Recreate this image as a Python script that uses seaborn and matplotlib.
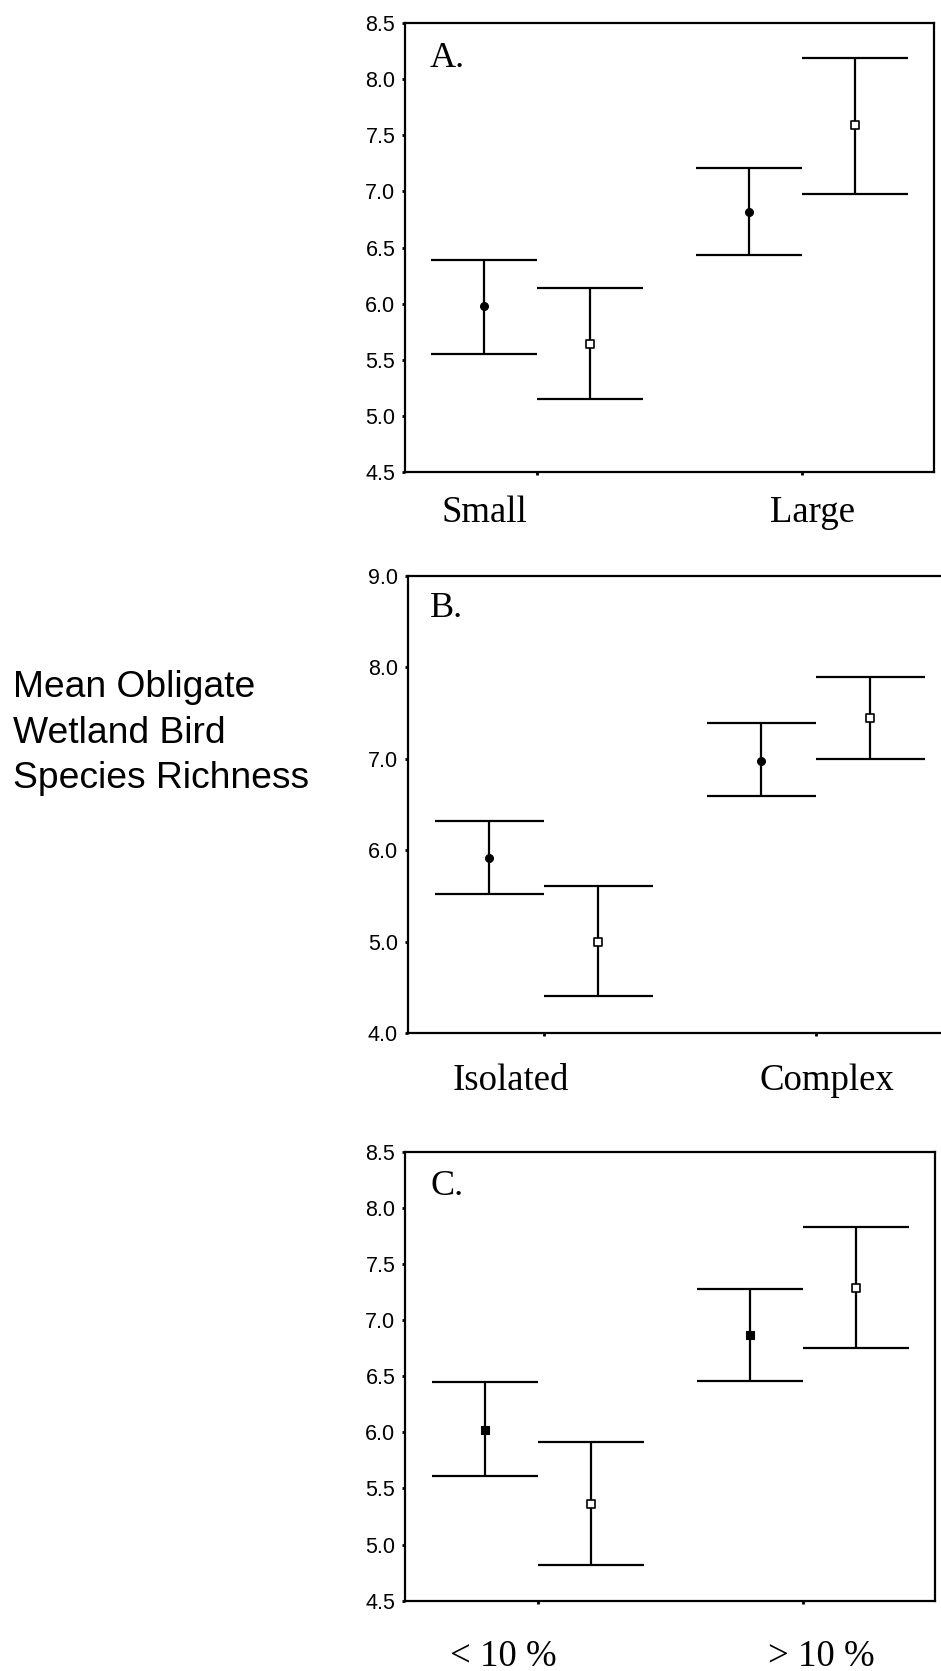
import numpy as np
import pandas as pd
import matplotlib
matplotlib.use("Agg")
import matplotlib.pyplot as plt
import seaborn as sns
from matplotlib.transforms import blended_transform_factory

# ---------------- data ----------------
panel_letters = ["A.", "B.", "C."]
categories_a = ["Small", "Large"]
categories_b = ["Isolated", "Complex"]
categories_c = ["< 10 %", "> 10 %"]

mean_a_filled = [5.98, 6.82]
lo_a_filled = [5.55, 6.43]
hi_a_filled = [6.39, 7.21]
mean_a_open = [5.64, 7.59]
lo_a_open = [5.15, 6.98]
hi_a_open = [6.14, 8.19]

mean_b_filled = [5.92, 6.98]
lo_b_filled = [5.52, 6.59]
hi_b_filled = [6.32, 7.39]
mean_b_open = [5.00, 7.44]
lo_b_open = [4.41, 7.00]
hi_b_open = [5.61, 7.89]

mean_c_filled = [6.02, 6.87]
lo_c_filled = [5.61, 6.46]
hi_c_filled = [6.45, 7.28]
mean_c_open = [5.36, 7.29]
lo_c_open = [4.82, 6.75]
hi_c_open = [5.91, 7.83]

yticks_a = [4.5, 5.0, 5.5, 6.0, 6.5, 7.0, 7.5, 8.0, 8.5]
yticks_b = [4.0, 5.0, 6.0, 7.0, 8.0, 9.0]
yticks_c = [4.5, 5.0, 5.5, 6.0, 6.5, 7.0, 7.5, 8.0, 8.5]

y_title = "Mean Obligate\nWetland Bird\nSpecies Richness"

# ---------------- style ----------------
sns.set_theme(style="white")
plt.rcParams["font.family"] = ["Liberation Sans", "DejaVu Sans"]
plt.rcParams["text.color"] = "black"
plt.rcParams["xtick.color"] = "black"
plt.rcParams["ytick.color"] = "black"
plt.rcParams["axes.labelcolor"] = "black"

W, H = 941, 1671
fig = plt.figure(figsize=(W / 100, H / 100), dpi=100)

# axes rectangles in pixels: left, top, right, bottom
rects_px = [
    (405, 23.3, 934, 471.7),
    (407.7, 575.7, 951.7, 1033.3),
    (405, 1151.7, 935, 1600.7),
]
# x label centres (data units) and baselines (pixels below the axis)
label_x = [(-0.2, 1.04), (-0.12, 1.04), (-0.13, 1.07)]
label_drop = [50, 57, 65]
letter_baselines = [67, 617, 1195]
filled_marker = ["o", "o", "s"]

panels = [
    (categories_a, mean_a_filled, lo_a_filled, hi_a_filled,
     mean_a_open, lo_a_open, hi_a_open, yticks_a),
    (categories_b, mean_b_filled, lo_b_filled, hi_b_filled,
     mean_b_open, lo_b_open, hi_b_open, yticks_b),
    (categories_c, mean_c_filled, lo_c_filled, hi_c_filled,
     mean_c_open, lo_c_open, hi_c_open, yticks_c),
]

offset = 0.2
cap_half = 0.2
lw_bar = 1.6

for i, (cats, mf, lf, hf, mo, lo_, ho, yt) in enumerate(panels):
    l, t, r, b = rects_px[i]
    ax = fig.add_axes([l / W, 1 - b / H, (r - l) / W, (b - t) / H])
    idx = np.arange(len(cats))
    df = pd.DataFrame({
        "x": np.concatenate([idx - offset, idx + offset]),
        "mean": mf + mo,
        "lo": lf + lo_,
        "hi": hf + ho,
        "group": ["filled"] * len(cats) + ["open"] * len(cats),
    })
    ax.vlines(df["x"], df["lo"], df["hi"], color="black", lw=lw_bar, zorder=2)
    ax.hlines(df["lo"], df["x"] - cap_half, df["x"] + cap_half, color="black", lw=lw_bar, zorder=2)
    ax.hlines(df["hi"], df["x"] - cap_half, df["x"] + cap_half, color="black", lw=lw_bar, zorder=2)
    dfl = df[df["group"] == "filled"]
    dop = df[df["group"] == "open"]
    sns.scatterplot(data=dfl, x="x", y="mean", ax=ax, marker=filled_marker[i],
                    color="black", edgecolor="black", s=32, linewidth=0.8, zorder=3,
                    legend=False)
    sns.scatterplot(data=dop, x="x", y="mean", ax=ax, marker="s",
                    color="white", edgecolor="black", s=28, linewidth=1.2, zorder=3,
                    legend=False)

    ax.set_xlim(-0.5, 1.5)
    ax.set_ylim(yt[0], yt[-1])
    ax.set_xticks(idx)
    ax.set_xticklabels([])
    ax.set_yticks(yt)
    ax.set_yticklabels([f"{v:.1f}" for v in yt], fontsize=15.5,
                       family=["Liberation Sans", "DejaVu Sans"])
    ax.set_xlabel("")
    ax.set_ylabel("")
    ax.tick_params(axis="both", direction="out", length=2, width=2, color="black",
                   pad=5, bottom=True, left=True)
    for sp in ax.spines.values():
        sp.set_visible(True)
        sp.set_color("black")
        sp.set_linewidth(1.6)
    ax.set_facecolor("white")

    ax.text((430 - l) / (r - l), (b - letter_baselines[i]) / (b - t), panel_letters[i],
            transform=ax.transAxes, ha="left", va="baseline", fontsize=26,
            family=["Liberation Serif", "DejaVu Serif"])

    tr = blended_transform_factory(ax.transData, ax.transAxes)
    for k, name in enumerate(cats):
        ax.text(label_x[i][k], -label_drop[i] / (b - t), name, transform=tr,
                ha="center", va="baseline", fontsize=26.5,
                family=["Liberation Serif", "DejaVu Serif"])

fig.text(13 / W, 1 - 733 / H, y_title, ha="left", va="center", fontsize=26.8,
         linespacing=1.38, family=["Liberation Sans", "DejaVu Sans"])

fig.savefig("out.png", dpi=100, facecolor="white")
